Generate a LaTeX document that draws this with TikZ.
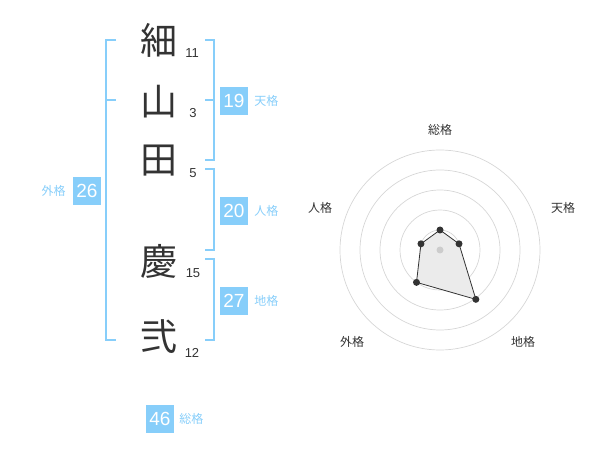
\documentclass[tikz,border=0pt]{standalone}
\usepackage{fontspec}
\usetikzlibrary{positioning}
\setmainfont{Liberation Sans}
\newfontfamily\jpfont{Noto Sans CJK JP}
\definecolor{kakublue}{HTML}{87CEFA}
\definecolor{inkgray}{HTML}{333333}
\tikzset{
  kanji/.style={text=inkgray, inner sep=0pt, font=\jpfont\fontsize{37}{37}\selectfont},
  strokes/.style={text=inkgray, inner sep=0pt, font=\fontsize{13}{13}\selectfont},
  kakubox/.style={fill=kakublue, text=white, inner sep=0pt, minimum width=28pt, minimum height=28pt, font=\fontsize{19}{19}\selectfont},
  kakuname/.style={text=kakublue, inner sep=0pt, font=\jpfont\fontsize{12}{12}\selectfont},
  brace/.style={draw=kakublue, line width=2.2pt},
  ring/.style={draw=black!16, line width=0.7pt},
  axisname/.style={text=inkgray, inner sep=0pt, font=\jpfont\fontsize{12}{12}\selectfont},
  vtx/.style={circle, fill=inkgray, inner sep=0pt, minimum size=7pt}
}
\begin{document}
\begin{tikzpicture}[x=1pt, y=-1pt]
    \useasboundingbox (0,0) rectangle (600,470);
    \node[kanji] (hoso) at (159,40) {細};
    \node[kanji] (yama) at (159,102) {山};
    \node[kanji] (ta) at (159,161) {田};
    \node[kanji] (kei) at (159,261) {慶};
    \node[kanji] (ni) at (159,337) {弐};
    \node[strokes] (shoso) at (192,53) {11};
    \node[strokes] (syama) at (193,113) {3};
    \node[strokes] (sta) at (193,173) {5};
    \node[strokes] (skei) at (193,273) {15};
    \node[strokes] (sni) at (192,353) {12};
    \draw[brace] (116,40) -- (106,40) -- (106,340) -- (116,340);
    \draw[brace] (106,100) -- (116,100);
    \draw[brace] (205,40) -- (214,40) -- (214,160) -- (205,160);
    \draw[brace] (205,100) -- (214,100);
    \draw[brace] (205,169) -- (214,169) -- (214,250) -- (205,250);
    \draw[brace] (205,259) -- (214,259) -- (214,340) -- (205,340);
    \node[kakubox] (ten) at (234,101) {19};
    \node[kakuname, right=6pt of ten] (tenname) {天格};
    \node[kakubox] (jin) at (234,211) {20};
    \node[kakuname, right=6pt of jin] (jinname) {人格};
    \node[kakubox] (chi) at (234,301) {27};
    \node[kakuname, right=6pt of chi] (chiname) {地格};
    \node[kakubox] (gai) at (87,191) {26};
    \node[kakuname, left=7pt of gai] (gainame) {外格};
    \node[kakubox] (so) at (160,419) {46};
    \node[kakuname, right=5pt of so] (soname) {総格};
    \begin{scope}[shift={(440,250)}]
        \foreach \r in {20,40,...,100}
            \draw[ring] (0,0) circle (\r pt);
        \coordinate (pso) at (-90:20);
        \coordinate (pten) at (-18:20);
        \coordinate (pchi) at (54:61);
        \coordinate (pgai) at (126:40);
        \coordinate (pjin) at (198:20);
        \fill[black!8] (pso) -- (pten) -- (pchi) -- (pgai) -- (pjin) -- cycle;
        \draw[inkgray, line width=0.8pt] (pso) -- (pten) -- (pchi) -- (pgai) -- (pjin) -- cycle;
        \fill[black!20] (0,0) circle (3.5pt);
        \foreach \p in {pso,pten,pchi,pgai,pjin}
            \node[vtx] at (\p) {};
        \node[axisname] (aso) at (0,-120) {総格};
        \node[axisname] (aten) at (123,-42) {天格};
        \node[axisname] (achi) at (83,92) {地格};
        \node[axisname] (agai) at (-88,92) {外格};
        \node[axisname] (ajin) at (-120,-42) {人格};
    \end{scope}
\end{tikzpicture}
\end{document}
